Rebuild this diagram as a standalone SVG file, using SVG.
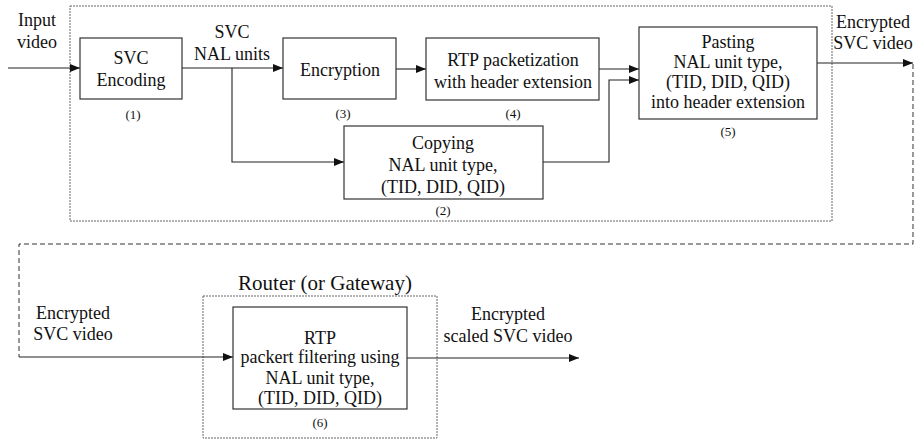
<svg xmlns="http://www.w3.org/2000/svg" width="917" height="441" viewBox="0 0 917 441" font-family="'Liberation Serif', 'Times New Roman', serif">
  <style>
    .box { fill: #fff; stroke: #333; stroke-width: 1.2; }
    .frame { fill: none; stroke: #666; stroke-width: 1; stroke-dasharray: 2 1; }
    .wire { fill: none; stroke: #222; stroke-width: 1.1; }
    .dash { fill: none; stroke: #333; stroke-width: 1; stroke-dasharray: 5 3; }
    text { font-family: 'Liberation Serif', 'Times New Roman', serif; font-size: 18px; fill: #111; text-anchor: middle; }
    .num { font-size: 13px; }
    .big { font-size: 21px; }
  </style>
  <defs>
    <marker id="arrow" viewBox="0 0 10 8" refX="10" refY="4" markerWidth="10" markerHeight="8" markerUnits="userSpaceOnUse" orient="auto">
      <path d="M0,0 L10,4 L0,8 Z" fill="#111"/>
    </marker>
  </defs>

  <!-- sender-side enclosure -->
  <rect class="frame" x="70" y="6" width="762" height="215"/>
  <!-- router enclosure -->
  <rect class="frame" x="203" y="296" width="234" height="142"/>
  <text class="big" x="325" y="290">Router (or Gateway)</text>

  <g id="connectors">
    <path class="wire" d="M8,68 H80" marker-end="url(#arrow)"/>
    <path class="wire" d="M182,68 H283" marker-end="url(#arrow)"/>
    <path class="wire" d="M396,69 H426" marker-end="url(#arrow)"/>
    <path class="wire" d="M599,69 H639" marker-end="url(#arrow)"/>
    <path class="wire" d="M232,68 V162 H344" marker-end="url(#arrow)"/>
    <path class="wire" d="M543,162 H609 V80 H639" marker-end="url(#arrow)"/>
    <path class="wire" d="M817,63 H913" marker-end="url(#arrow)"/>
    <path class="dash" d="M913,64 V244 H19 V357"/>
    <path class="wire" d="M19,357 H233" marker-end="url(#arrow)"/>
    <path class="wire" d="M407,358 H579" marker-end="url(#arrow)"/>
  </g>

  <!-- edge labels -->
  <text x="37" y="26">Input</text>
  <text x="37" y="48">video</text>
  <text x="232" y="38">SVC</text>
  <text x="232" y="60">NAL units</text>
  <text x="873" y="28">Encrypted</text>
  <text x="873" y="49">SVC video</text>
  <text x="73" y="319">Encrypted</text>
  <text x="73" y="340">SVC video</text>
  <text x="508" y="320">Encrypted</text>
  <text x="508" y="342">scaled SVC video</text>

  <g id="svc-encoding">
    <rect class="box" x="80" y="38" width="102" height="61"/>
    <text x="131" y="64">SVC</text>
    <text x="131" y="86">Encoding</text>
    <text class="num" x="133" y="119">(1)</text>
  </g>

  <g id="copying">
    <rect class="box" x="344" y="126" width="199" height="73"/>
    <text x="443" y="149">Copying</text>
    <text x="443" y="171">NAL unit type,</text>
    <text x="443" y="193">(TID, DID, QID)</text>
    <text class="num" x="443" y="215">(2)</text>
  </g>

  <g id="encryption">
    <rect class="box" x="283" y="38" width="113" height="61"/>
    <text x="340" y="76">Encryption</text>
    <text class="num" x="343" y="118">(3)</text>
  </g>

  <g id="rtp-packetization">
    <rect class="box" x="426" y="38" width="173" height="62"/>
    <text x="513" y="66">RTP packetization</text>
    <text x="513" y="88">with header extension</text>
    <text class="num" x="513" y="118">(4)</text>
  </g>

  <g id="pasting">
    <rect class="box" x="639" y="27" width="178" height="92"/>
    <text x="728" y="48">Pasting</text>
    <text x="728" y="68">NAL unit type,</text>
    <text x="728" y="88">(TID, DID, QID)</text>
    <text x="728" y="108">into header extension</text>
    <text class="num" x="728" y="136">(5)</text>
  </g>

  <g id="rtp-filtering">
    <rect class="box" x="233" y="307" width="174" height="102"/>
    <text x="320" y="344">RTP</text>
    <text x="320" y="363">packert filtering using</text>
    <text x="320" y="384">NAL unit type,</text>
    <text x="320" y="404">(TID, DID, QID)</text>
    <text class="num" x="320" y="427">(6)</text>
  </g>
</svg>
